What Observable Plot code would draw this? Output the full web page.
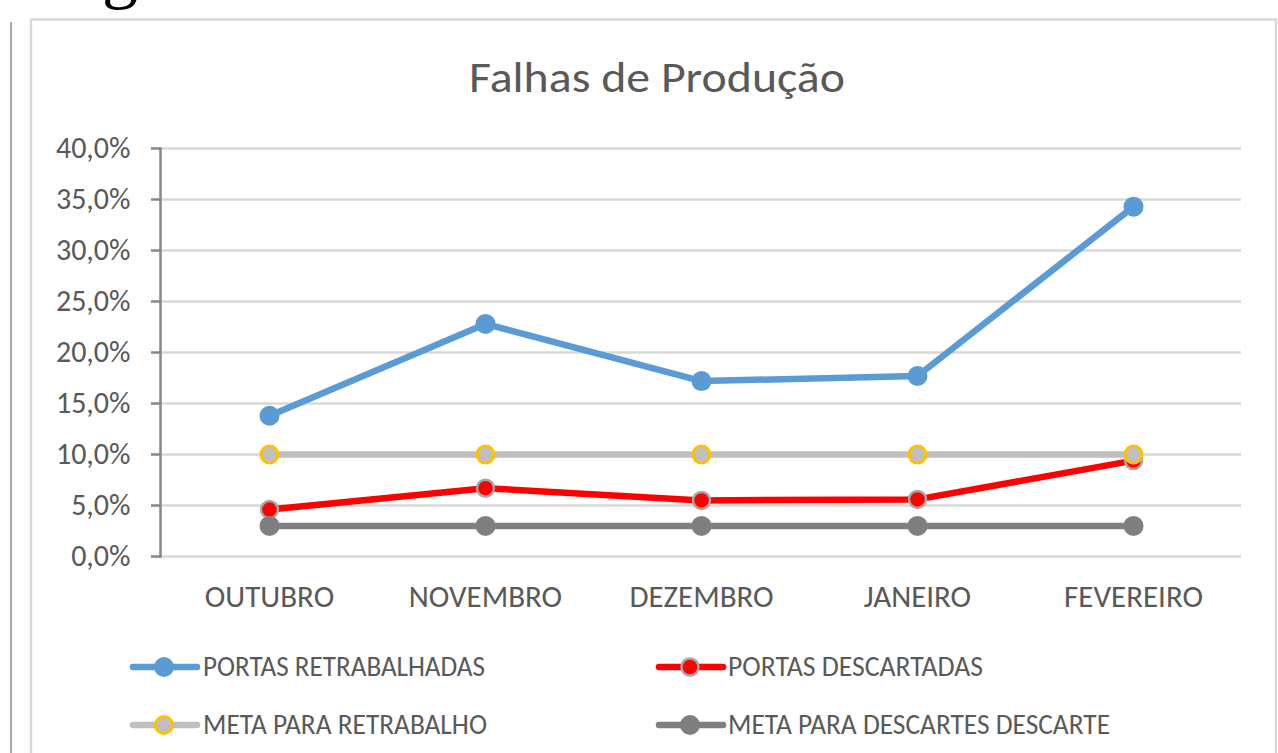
<!DOCTYPE html>
<html>
<head>
<meta charset="utf-8">
<script src="https://cdn.jsdelivr.net/npm/d3@7"></script>
<script src="https://cdn.jsdelivr.net/npm/@observablehq/plot@0.6"></script>
<style>
  html, body { margin: 0; padding: 0; background: #fff; }
  #wrap { position: relative; width: 1278px; height: 753px; overflow: hidden; background: #fff; }
  #wrap > svg, #wrap > div { position: absolute; left: 0; top: 0; }
</style>
</head>
<body>
<div id="wrap">
  <svg id="deco" width="1278" height="753"></svg>
  <div id="chart"></div>
  <svg id="over" width="1278" height="753" style="pointer-events:none"></svg>
</div>
<script>
// ---- data ----
const months = ["OUTUBRO", "NOVEMBRO", "DEZEMBRO", "JANEIRO", "FEVEREIRO"];
const portasRetrabalhadas = [0.138, 0.228, 0.172, 0.177, 0.343];
const portasDescartadas = [0.046, 0.067, 0.055, 0.056, 0.094];
const metaRetrabalho = [0.10, 0.10, 0.10, 0.10, 0.10];
const metaDescarte = [0.03, 0.03, 0.03, 0.03, 0.03];
const yTicks = [0, 0.05, 0.10, 0.15, 0.20, 0.25, 0.30, 0.35, 0.40];
const seriesNames = ["PORTAS RETRABALHADAS", "PORTAS DESCARTADAS", "META PARA RETRABALHO", "META PARA DESCARTES DESCARTE"];
const chartTitle = "Falhas de Produção";

// ---- styles ----
const FONT = "Carlito, Calibri, 'Open Sans', sans-serif";
const TXT = "#595959";
const styles = [
  {line: "#5b9bd5", fill: "#5b9bd5", stroke: "none", sw: 0, r: 10},
  {line: "#ff0000", fill: "#ff0000", stroke: "#a6a6a6", sw: 2.5, r: 8.5},
  {line: "#bfbfbf", fill: "#bfbfbf", stroke: "#ffc000", sw: 3, r: 8.5},
  {line: "#7f7f7f", fill: "#7f7f7f", stroke: "none", sw: 0, r: 10}
];
const seriesValues = [portasRetrabalhadas, portasDescartadas, metaRetrabalho, metaDescarte];

const locale = d3.formatLocale({decimal: ",", thousands: ".", grouping: [3], currency: ["", "€"]});
const pct = locale.format(".1%");

const series = seriesValues.map((vals, s) => months.map((m, i) => ({month: m, value: vals[i], series: seriesNames[s]})));

const seriesMarks = series.flatMap((rows, s) => [
  Plot.line(rows, {x: "month", y: "value", stroke: styles[s].line, strokeWidth: 6.5, strokeLinecap: "round", strokeLinejoin: "round"}),
  Plot.dot(rows, {x: "month", y: "value", r: styles[s].r, fill: styles[s].fill, stroke: styles[s].stroke, strokeWidth: styles[s].sw})
]);

const chart = Plot.plot({
  width: 1278,
  height: 620,
  marginLeft: 160,
  marginRight: 37,
  marginTop: 148,
  marginBottom: 64,
  style: {fontFamily: FONT, fontSize: "30px", color: TXT, background: "transparent", overflow: "visible"},
  x: {type: "point", domain: months, padding: 0.5, label: null},
  y: {domain: [0, 0.4], label: null},
  marks: [
    Plot.gridY(yTicks, {stroke: "#d9d9d9", strokeWidth: 2.5, strokeOpacity: 1}),
    Plot.axisY(yTicks, {tickFormat: pct, tickSize: 9, tickPadding: 21, stroke: "#868686", strokeWidth: 2.5, fill: TXT, fontSize: 30, label: null}),
    Plot.frame({anchor: "left", stroke: "#868686", strokeWidth: 2.5}),
    Plot.axisX({tickSize: 0, tickPadding: 28, fill: TXT, fontSize: 31, label: null}),
    ...seriesMarks
  ]
});
document.getElementById("chart").appendChild(chart);

// ---- decoration: frames + stray glyph ----
const deco = d3.select("#deco");
deco.append("line").attr("x1", 11).attr("x2", 11).attr("y1", 22).attr("y2", 753).attr("stroke", "#8c8c8c").attr("stroke-width", 1.5);
deco.append("rect").attr("x", 31).attr("y", 19.5).attr("width", 1245).attr("height", 760)
  .attr("fill", "#fff").attr("stroke", "#d9d9d9").attr("stroke-width", 2.5);
deco.append("text").attr("x", 102).attr("y", -5).attr("font-family", "'Liberation Serif', serif").attr("font-size", 72)
  .attr("fill", "#000").text("g");

// ---- title + legend ----
const over = d3.select("#over");
over.append("text").attr("x", 657).attr("y", 92).attr("text-anchor", "middle")
  .attr("font-family", FONT).attr("font-size", 44).attr("fill", TXT)
  .attr("textLength", 376).attr("lengthAdjust", "spacingAndGlyphs").text(chartTitle);

const legendPos = [
  {x: 133, y: 667, tx: 203, w: 282},
  {x: 659, y: 667, tx: 728, w: 255},
  {x: 133, y: 725, tx: 203, w: 284},
  {x: 659, y: 725, tx: 728, w: 382}
];
seriesNames.forEach((name, s) => {
  const p = legendPos[s], st = styles[s];
  const g = over.append("g");
  g.append("line").attr("x1", p.x).attr("x2", p.x + 64).attr("y1", p.y).attr("y2", p.y)
    .attr("stroke", st.line).attr("stroke-width", 6.5).attr("stroke-linecap", "round");
  g.append("circle").attr("cx", p.x + 31).attr("cy", p.y).attr("r", st.r)
    .attr("fill", st.fill).attr("stroke", st.stroke).attr("stroke-width", st.sw);
  g.append("text").attr("x", p.tx).attr("y", p.y + 9).attr("font-family", FONT).attr("font-size", 28)
    .attr("fill", TXT).attr("textLength", p.w).attr("lengthAdjust", "spacingAndGlyphs").text(name);
});
</script>
</body>
</html>
